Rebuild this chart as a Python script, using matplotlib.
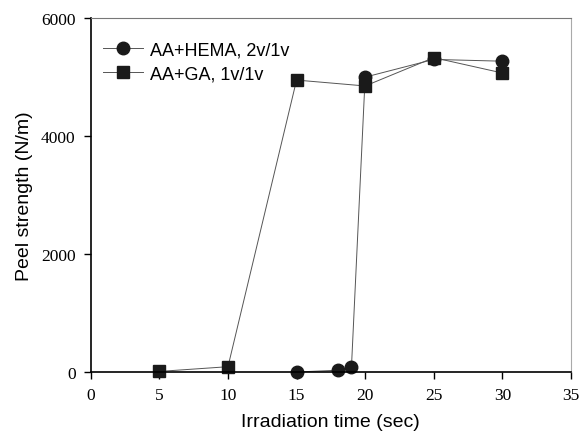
import matplotlib
matplotlib.use("Agg")
import matplotlib.pyplot as plt

# data
t_hema = [15, 18, 19, 20, 25, 30]
peel_hema = [0, 30, 80, 5000, 5300, 5270]
t_ga = [5, 10, 15, 20, 25, 30]
peel_ga = [10, 90, 4950, 4850, 5330, 5070]

fig = plt.figure(figsize=(5.82, 4.35), dpi=100)
ax = fig.add_axes([0.156, 0.1425, 0.825, 0.8135])

ax.plot(t_hema, peel_hema, color='#555555', lw=0.7, marker='o', ms=9,
        mfc='#1a1a1a', mec='#1a1a1a', label='AA+HEMA, 2v/1v', clip_on=False)
ax.plot(t_ga, peel_ga, color='#555555', lw=0.7, marker='s', ms=8,
        mfc='#1a1a1a', mec='#1a1a1a', label='AA+GA, 1v/1v', clip_on=False)

ax.set_xlim(0, 35)
ax.set_ylim(0, 6000)
ax.set_xticks(range(0, 36, 5))
ax.set_yticks([0, 2000, 4000, 6000])

for lab in ax.get_xticklabels() + ax.get_yticklabels():
    lab.set_family('Liberation Serif')
    lab.set_fontsize(12.5)

ax.set_xlabel('Irradiation time (sec)', family='Liberation Sans', fontsize=14, labelpad=7)
ax.set_ylabel('Peel strength (N/m)', family='Liberation Sans', fontsize=14, labelpad=6)

ax.spines['left'].set_linewidth(1.2)
ax.spines['bottom'].set_linewidth(1.2)
ax.spines['top'].set_color('#777777')
ax.spines['right'].set_color('#aaaaaa')
ax.tick_params(direction='out', length=5, width=1, pad=6)

leg = ax.legend(loc='upper left', bbox_to_anchor=(0.0, 0.97), frameon=False,
                prop={'family': 'Liberation Sans', 'size': 13},
                handlelength=2.2, handletextpad=0.4, borderaxespad=0.3, labelspacing=0.4)

fig.savefig('out.png', dpi=100)
